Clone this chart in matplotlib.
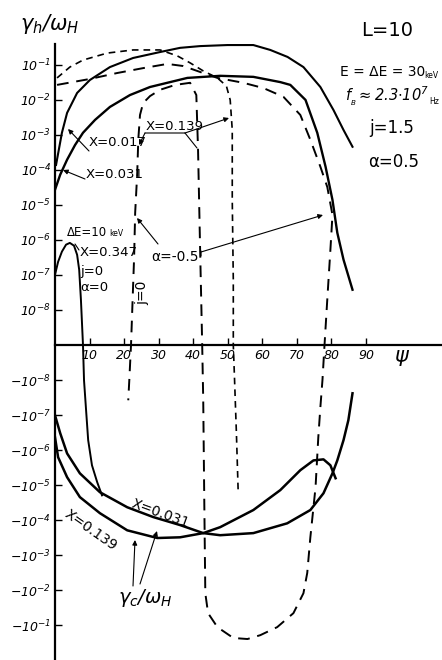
import numpy as np
import matplotlib
matplotlib.use('Agg')
from matplotlib import pyplot as plt

plt.rcParams['mathtext.fontset'] = 'dejavusans'
plt.rcParams['mathtext.default'] = 'it'
plt.rcParams['font.style'] = 'italic'

W, H = 442, 660

# values: psi in degrees, lg = log10 |gamma / omega_H|
# upper half (gamma_h > 0)
x017_psi = [0.3, 2.0, 3.5, 6.4, 10.1, 15.9, 22.6, 30.4, 36.2, 42.0, 49.9, 57.4, 62.3, 67.3, 71.9, 76.8, 80.6, 83.5, 86.1]
x017_lg = [-3.86, -2.94, -2.37, -1.80, -1.43, -1.06, -0.80, -0.63, -0.51, -0.46, -0.43, -0.43, -0.57, -0.77, -1.06, -1.63, -2.29, -2.86, -3.34]

x031_psi = [0.0, 1.5, 3.5, 5.8, 8.1, 11.6, 15.9, 21.7, 27.5, 38.3, 47.8, 57.4, 65.2, 68.1, 72.5, 75.9, 78.3, 80.3, 81.7, 83.5, 86.1]
x031_lg = [-4.57, -4.14, -3.71, -3.29, -2.94, -2.57, -2.20, -1.86, -1.63, -1.37, -1.31, -1.34, -1.49, -1.57, -2.00, -2.94, -3.91, -4.86, -5.80, -6.57, -7.43]

# short-dashed arc going over into the vertical near psi = 52
arc_psi = [0.6, 4.3, 8.1, 15.1, 22.6, 30.4, 35.4, 39.1, 42.9, 47.0, 49.6, 50.7, 51.3, 51.3, 51.6]
arc_lg = [-1.37, -1.06, -0.86, -0.66, -0.57, -0.57, -0.74, -0.94, -1.17, -1.37, -1.60, -2.00, -2.86, -4.86, -7.14]
arc_cross = 51.6
arc_dn_psi = [51.9, 52.5, 53.0]
arc_dn_lg = [-8.20, -6.49, -4.86]

# long-dashed curve (X = 0.139) with the loop into gamma < 0
ld_psi = [0.6, 10.1, 18.0, 25.5, 32.5, 37.1, 42.0, 47.0, 54.5, 60.3, 66.1, 71.0, 73.9, 76.8, 78.8, 80.3, 79.7, 78.8]
ld_lg = [-1.57, -1.40, -1.23, -1.09, -0.97, -1.03, -1.20, -1.37, -1.51, -1.66, -1.91, -2.43, -3.14, -3.91, -4.49, -5.29, -6.29, -7.71]
ld_cross = 78.0
loop_psi = [77.4, 76.8, 76.2, 75.4, 73.9, 73.0, 71.9, 69.0, 64.3, 59.4, 55.7, 51.6, 47.0, 44.3, 43.5, 43.2, 42.9]
loop_lg = [-8.00, -7.23, -6.37, -4.94, -3.51, -2.49, -1.91, -1.34, -0.94, -0.71, -0.60, -0.63, -0.94, -1.34, -1.91, -4.57, -7.43]
loop_cross = 42.6
j0_psi = [42.0, 41.4, 40.9, 39.1, 34.8, 30.4, 27.5, 25.5, 24.6, 24.1, 23.8, 23.2, 22.9]
j0_lg = [-6.29, -3.43, -1.86, -1.51, -1.57, -1.71, -1.89, -2.09, -2.43, -3.14, -4.09, -5.23, -6.49]
j0_cross = 22.0
j0_dn_psi = [21.5, 21.2]
j0_dn_lg = [-8.00, -7.43]

# dE = 10 keV, X = 0.347
x347_psi = [0.0, 0.9, 2.0, 3.2, 4.3, 5.5, 6.4, 7.0, 7.5]
x347_lg = [-7.00, -6.63, -6.34, -6.14, -6.09, -6.17, -6.43, -6.86, -7.71]
x347_cross = 8.1
x347_dn_psi = [8.4, 9.0, 9.6, 10.7, 12.2, 13.6]
x347_dn_lg = [-8.00, -7.14, -6.29, -5.57, -5.09, -4.71]

# lower half (gamma_c < 0)
c031_psi = [0.0, 1.5, 3.5, 7.2, 13.0, 20.9, 28.4, 36.2, 42.9, 47.8, 57.4, 67.2, 73.9, 77.7, 80.3, 81.7, 83.5, 84.9, 86.1]
c031_lg = [-7.00, -6.49, -5.91, -5.34, -4.80, -4.37, -4.09, -3.86, -3.63, -3.57, -3.63, -3.91, -4.29, -4.77, -5.34, -5.71, -6.29, -6.86, -7.63]

c139_psi = [0.0, 0.9, 3.5, 7.2, 13.0, 20.9, 29.6, 36.2, 42.9, 47.8, 57.4, 65.2, 71.0, 74.8, 77.7, 79.7, 81.2]
c139_lg = [-6.37, -5.80, -5.23, -4.66, -4.20, -3.71, -3.49, -3.51, -3.63, -3.80, -4.29, -4.86, -5.43, -5.71, -5.74, -5.57, -5.20]

ytick_exp = [-1, -2, -3, -4, -5, -6, -7, -8]
xticks = [10, 20, 30, 40, 50, 60, 70, 80, 90]


def up(lg):
    return list(10.0 ** np.asarray(lg))


def dn(lg):
    return list(-10.0 ** np.asarray(lg))


def fp(x, y):
    return (x / W, 1 - y / H)


fig = plt.figure(figsize=(W / 100, H / 100), dpi=100)
ax = fig.add_axes([55 / W, 0, 1 - 55 / W, 1 - 44 / H])
ax.set_yscale('symlog', linthresh=1e-9, linscale=0.01)

lw = 1.5
ax.plot(x017_psi, up(x017_lg), color='k', lw=lw)
ax.plot(x031_psi, up(x031_lg), color='k', lw=lw + 0.2)
ax.plot(arc_psi + [arc_cross] + arc_dn_psi, up(arc_lg) + [0] + dn(arc_dn_lg),
        color='k', lw=1.2, dashes=(4, 3))
ax.plot(ld_psi + [ld_cross] + loop_psi + [loop_cross] + j0_psi + [j0_cross] + j0_dn_psi,
        up(ld_lg) + [0] + dn(loop_lg) + [0] + up(j0_lg) + [0] + dn(j0_dn_lg),
        color='k', lw=1.4, dashes=(6, 4))
ax.plot(x347_psi + [x347_cross] + x347_dn_psi, up(x347_lg) + [0] + dn(x347_dn_lg), color='k', lw=1.4)
ax.plot(c031_psi, dn(c031_lg), color='k', lw=lw + 0.3)
ax.plot(c139_psi, dn(c139_lg), color='k', lw=lw + 0.3)

ax.set_xlim(0, 112)
ax.set_ylim(-1.0, 10 ** -0.4)

for s in ['top', 'right']:
    ax.spines[s].set_visible(False)
ax.spines['bottom'].set_position(('data', 0))
ax.spines['left'].set_linewidth(1.6)
ax.spines['bottom'].set_linewidth(1.6)

yt = [10.0 ** e for e in ytick_exp] + [-10.0 ** e for e in ytick_exp]
ylab = [r'$10^{%d}$' % e for e in ytick_exp] + [r'$-10^{%d}$' % e for e in ytick_exp]
ax.set_yticks(yt)
ax.set_yticklabels(ylab, fontsize=9)
ax.yaxis.set_minor_locator(matplotlib.ticker.NullLocator())
ax.set_xticks(xticks)
ax.set_xticklabels([str(t) for t in xticks], fontsize=9, style='italic')
ax.tick_params(axis='both', direction='in', length=5, width=1.0, pad=3)

# texts
fig.text(*fp(50, 24), r'$\gamma_h/\omega_H$', fontsize=15, ha='center', va='center')
fig.text(*fp(387, 30), 'L=10', fontsize=14, ha='center', va='center', style='normal')
fig.text(*fp(340, 72), 'E = ΔE = 30', fontsize=10, ha='left', va='center', style='normal')
fig.text(*fp(424, 75), 'keV', fontsize=5.5, ha='left', va='center', style='normal')
fig.text(*fp(345, 96), r'$\mathregular{f_{_B} \approx 2.3{\cdot}10^7}$', fontsize=10.5, ha='left', va='center')
fig.text(*fp(429, 101), 'Hz', fontsize=5.5, ha='left', va='center', style='normal')
fig.text(*fp(392, 128), 'j=1.5', fontsize=12, ha='center', va='center', style='normal')
fig.text(*fp(394, 162), 'α=0.5', fontsize=12, ha='center', va='center', style='normal')

fig.text(*fp(89, 143), 'X=0.017', fontsize=9.5, ha='left', va='center', style='normal')
fig.text(*fp(86, 175), 'X=0.031', fontsize=9.5, ha='left', va='center', style='normal')
fig.text(*fp(146, 126), 'X=0.139', fontsize=9.5, ha='left', va='center', style='normal')
fig.text(*fp(175, 257), 'α=-0.5', fontsize=10, ha='center', va='center', style='normal')
fig.text(*fp(142, 293), 'j=0', fontsize=10, ha='center', va='center', rotation=90, style='normal')
fig.text(*fp(67, 233), 'ΔE=10', fontsize=8.5, ha='left', va='center', style='normal')
fig.text(*fp(109, 234), 'keV', fontsize=5.5, ha='left', va='center', style='normal')
fig.text(*fp(80, 253), 'X=0.347', fontsize=9.5, ha='left', va='center', style='normal')
fig.text(*fp(80, 271), 'j=0', fontsize=9.5, ha='left', va='center', style='normal')
fig.text(*fp(80, 288), 'α=0', fontsize=9.5, ha='left', va='center', style='normal')
fig.text(*fp(160, 514), 'X=0.031', fontsize=10, ha='center', va='center', rotation=-20, style='normal')
fig.text(*fp(91, 530), 'X=0.139', fontsize=10, ha='center', va='center', rotation=-35, style='normal')
fig.text(*fp(145, 598), r'$\gamma_c/\omega_H$', fontsize=14, ha='center', va='center')
fig.text(*fp(402, 358), r'$\psi$', fontsize=15, ha='center', va='center')

arrow = dict(arrowstyle='-|>', lw=0.8, color='k', mutation_scale=7, shrinkA=0, shrinkB=0)
plain = dict(arrowstyle='-', lw=0.8, color='k', shrinkA=0, shrinkB=0)


def link(tail, tip, props):
    ax.annotate('', xy=fp(*tip), xytext=fp(*tail), xycoords='figure fraction',
                textcoords='figure fraction', arrowprops=props)


link((89, 151), (68, 129), arrow)
link((85, 179), (63, 170), arrow)
link((145, 133), (185, 133), plain)
link((145, 133), (139, 145), arrow)
link((185, 133), (197, 148), plain)
link((185, 133), (229, 118), arrow)
link((158, 244), (137, 218), arrow)
link((201, 256), (201, 251), plain)
link((201, 252), (323, 215), arrow)
link((79, 250), (75, 244), plain)
link((133, 586), (135, 540), arrow)
link((140, 584), (157, 531), arrow)

fig.savefig('out.png', dpi=100)
